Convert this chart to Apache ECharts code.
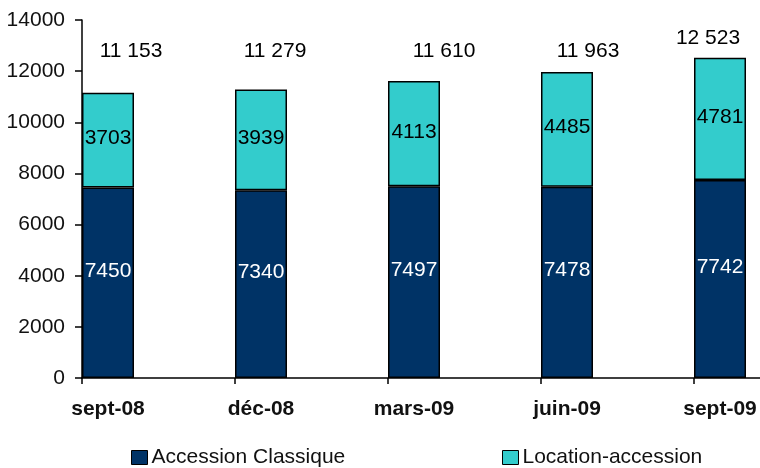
<!DOCTYPE html>
<html>
<head>
<meta charset="utf-8">
<script src="https://cdn.jsdelivr.net/npm/echarts@6/dist/echarts.min.js"></script>
<style>
  html, body { margin: 0; padding: 0; background: #ffffff; }
  #chart { width: 760px; height: 468px; }
</style>
</head>
<body>
<div id="chart"></div>
<script>
// Quarterly counts, two schemes, stacked
const categories = ['sept-08', 'déc-08', 'mars-09', 'juin-09', 'sept-09'];
const accessionClassique = [7450, 7340, 7497, 7478, 7742];
const locationAccession = [3703, 3939, 4113, 4485, 4781];
const seriesNames = ['Accession Classique', 'Location-accession'];

// Value axis range
const yMin = 0;
const yMax = 14000;
const yInterval = 2000;

const totals = categories.map((_, i) => accessionClassique[i] + locationAccession[i]);

const FONT = '"Liberation Sans", Arial, Helvetica, sans-serif';
const FS = 21;
const NAVY = '#003366';
const CYAN = '#33CCCC';

// Totals sit on a common line unless the bar reaches above it
const totalLabelFloor = 12000;
const totalLabelNudge = [23, 14, 30, 21, -12];

function spaced(v) {
  return String(v).replace(/\B(?=(\d{3})+(?!\d))/g, ' ');
}

const chart = echarts.init(document.getElementById('chart'), null, { renderer: 'canvas' });

const band = 153;
const barLeft = 82;
const barWidth = 52;

const legendBase = {
  top: 447,
  padding: 0,
  itemWidth: 16, itemHeight: 14,
  icon: 'rect',
  itemStyle: { borderColor: '#000', borderWidth: 1 },
  textStyle: { fontSize: FS, color: '#111', fontFamily: FONT, padding: [0, 0, 0, -1] }
};

chart.setOption({
  animation: false,
  backgroundColor: '#ffffff',
  textStyle: { fontFamily: FONT },
  grid: [
    // bars + category labels
    { left: barLeft + barWidth / 2 - band / 2, top: 20, width: band * categories.length, height: 358, outerBoundsMode: 'none' },
    // axis frame with ticks at band boundaries
    { left: barLeft, top: 20, width: band * categories.length, height: 358, outerBoundsMode: 'none' }
  ],
  legend: [
    Object.assign({}, legendBase, { data: [seriesNames[0]], left: 131 }),
    Object.assign({}, legendBase, { data: [seriesNames[1]], left: 502 })
  ],
  xAxis: [
    {
      type: 'category', gridIndex: 0, data: categories,
      axisLine: { show: false }, axisTick: { show: false },
      axisLabel: { fontSize: FS, fontWeight: 'bold', color: '#111', margin: 21, fontFamily: FONT },
      splitLine: { show: false }
    },
    {
      type: 'category', gridIndex: 1, data: categories, boundaryGap: true,
      axisLine: { show: true, lineStyle: { color: '#000', width: 1.5 } },
      axisTick: { show: true, length: 6, lineStyle: { color: '#000', width: 1.5 } },
      axisLabel: { show: false },
      splitLine: { show: false }
    }
  ],
  yAxis: [
    {
      type: 'value', gridIndex: 0, min: yMin, max: yMax, interval: yInterval,
      show: false, splitLine: { show: false }
    },
    {
      type: 'value', gridIndex: 1, min: yMin, max: yMax, interval: yInterval,
      axisLine: { show: true, lineStyle: { color: '#000', width: 1.5 } },
      axisTick: { show: true, length: 7, lineStyle: { color: '#000', width: 1.5 } },
      axisLabel: {
        fontSize: FS, color: '#111', margin: 17, fontFamily: FONT,
        formatter: v => String(v)
      },
      splitLine: { show: false }
    }
  ],
  series: [
    {
      name: seriesNames[0], type: 'bar', stack: 'total',
      xAxisIndex: 0, yAxisIndex: 0,
      barWidth: barWidth,
      data: accessionClassique,
      itemStyle: { color: NAVY, borderColor: '#000', borderWidth: 1.5 },
      label: {
        show: true, position: 'inside', offset: [0, -12],
        color: '#fff', fontSize: FS, fontFamily: FONT
      },
      z: 3
    },
    {
      name: seriesNames[1], type: 'bar', stack: 'total',
      xAxisIndex: 0, yAxisIndex: 0,
      barWidth: barWidth,
      data: locationAccession,
      itemStyle: { color: CYAN, borderColor: '#000', borderWidth: 1.5 },
      label: {
        show: true, position: 'inside', offset: [0, -2],
        color: '#000', fontSize: FS, fontFamily: FONT
      },
      z: 3
    },
    {
      name: 'totals', type: 'custom',
      xAxisIndex: 0, yAxisIndex: 0,
      data: totals.map((t, i) => [i, t]),
      renderItem: function (params, api) {
        const i = api.value(0);
        const total = api.value(1);
        const p = api.coord([i, Math.max(total, totalLabelFloor)]);
        return {
          type: 'text',
          x: p[0] + totalLabelNudge[i],
          y: p[1] - 20,
          style: {
            text: spaced(total),
            fill: '#000',
            fontSize: FS,
            fontFamily: FONT,
            align: 'center',
            verticalAlign: 'middle'
          }
        };
      },
      z: 4
    }
  ]
});
</script>
</body>
</html>
